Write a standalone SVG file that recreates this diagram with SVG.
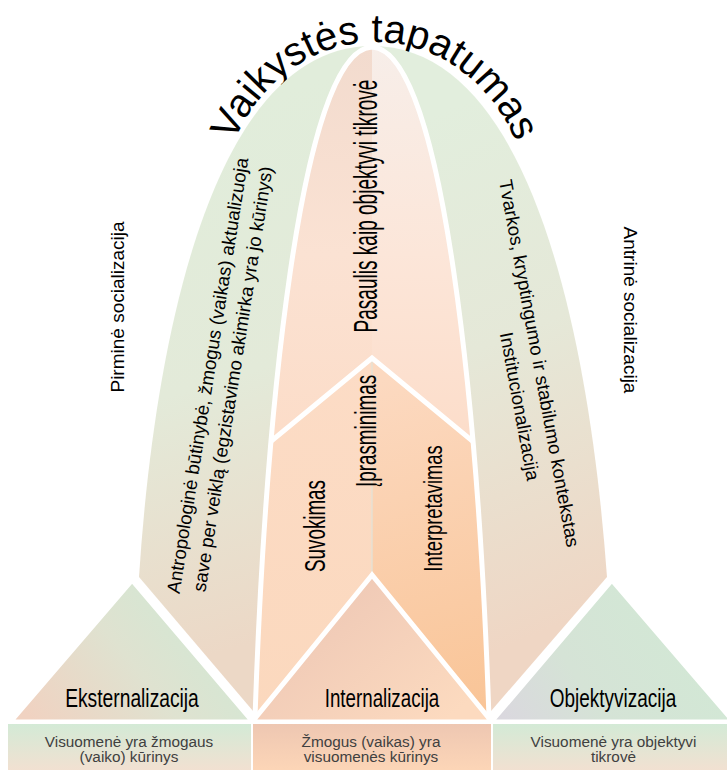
<svg xmlns="http://www.w3.org/2000/svg" width="727" height="770" viewBox="0 0 727 770">
  <defs>
    <style>
      text { font-family: "Liberation Sans", Arial, sans-serif; fill: #000; }
      .side { font-size: 19px; text-anchor: middle; }
      .note { font-size: 18.67px; text-anchor: middle; }
      .lbl { font-size: 25px; text-anchor: middle; }
      .cap { font-size: 15.33px; fill: #404040; text-anchor: middle; }
      .gap { fill: none; stroke: #fff; stroke-width: 5; stroke-linejoin: miter; }
      .edge { stroke: #fff; stroke-width: 5; stroke-linejoin: miter; }
    </style>
    <!-- outer lobes -->
    <linearGradient id="gLobeL" gradientUnits="userSpaceOnUse" x1="180" y1="120" x2="330" y2="620">
      <stop offset="0" stop-color="#e1eddb"/>
      <stop offset="0.5" stop-color="#e3ead9"/>
      <stop offset="1" stop-color="#ecd8c6"/>
    </linearGradient>
    <linearGradient id="gLobeR" gradientUnits="userSpaceOnUse" x1="420" y1="120" x2="620" y2="600">
      <stop offset="0" stop-color="#e2eedd"/>
      <stop offset="0.45" stop-color="#e5e8d8"/>
      <stop offset="1" stop-color="#efd6c4"/>
    </linearGradient>
    <!-- core segments -->
    <linearGradient id="gUpL" gradientUnits="userSpaceOnUse" x1="0" y1="47" x2="0" y2="460">
      <stop offset="0" stop-color="#f2dbce"/>
      <stop offset="0.5" stop-color="#fbe2d3"/>
      <stop offset="1" stop-color="#fcdcc7"/>
    </linearGradient>
    <linearGradient id="gUpR" gradientUnits="userSpaceOnUse" x1="0" y1="47" x2="0" y2="460">
      <stop offset="0" stop-color="#f7eee9"/>
      <stop offset="0.5" stop-color="#fce6d9"/>
      <stop offset="1" stop-color="#fcdcc8"/>
    </linearGradient>
    <linearGradient id="gLowL" gradientUnits="userSpaceOnUse" x1="0" y1="360" x2="0" y2="720">
      <stop offset="0" stop-color="#fcdcc6"/>
      <stop offset="1" stop-color="#fbd8bd"/>
    </linearGradient>
    <linearGradient id="gLowR" gradientUnits="userSpaceOnUse" x1="380" y1="380" x2="480" y2="720">
      <stop offset="0" stop-color="#fcd9c0"/>
      <stop offset="1" stop-color="#f9c496"/>
    </linearGradient>
    <!-- base triangles -->
    <linearGradient id="gTriL" gradientUnits="userSpaceOnUse" x1="200" y1="600" x2="40" y2="730">
      <stop offset="0" stop-color="#d2e8d4"/>
      <stop offset="0.45" stop-color="#dfe2d0"/>
      <stop offset="1" stop-color="#f0d2c1"/>
    </linearGradient>
    <linearGradient id="gTriC" gradientUnits="userSpaceOnUse" x1="330" y1="590" x2="440" y2="725">
      <stop offset="0" stop-color="#efc9b6"/>
      <stop offset="1" stop-color="#fcdabf"/>
    </linearGradient>
    <linearGradient id="gTriR" gradientUnits="userSpaceOnUse" x1="680" y1="610" x2="510" y2="725">
      <stop offset="0" stop-color="#d2e8d5"/>
      <stop offset="0.6" stop-color="#d5e3d6"/>
      <stop offset="1" stop-color="#dad8de"/>
    </linearGradient>
    <!-- caption boxes -->
    <linearGradient id="gBoxG" x1="0" y1="0" x2="0" y2="1">
      <stop offset="0" stop-color="#d3ead6"/>
      <stop offset="1" stop-color="#f3e0d1"/>
    </linearGradient>
    <linearGradient id="gBoxO" x1="0" y1="0" x2="0" y2="1">
      <stop offset="0" stop-color="#eec7b2"/>
      <stop offset="1" stop-color="#fdd6b7"/>
    </linearGradient>
    <clipPath id="clipCore">
      <path d="M255,718 C265,420 300,50 372,47 C444,50 479,420 489,718 Z"/>
    </clipPath>
    <path id="titleArc" d="M220,213 A155,171 0 0 1 530,213" fill="none"/>
  </defs>

  <!-- title along the arch -->
  <g id="title">
    <text font-size="40"><textPath href="#titleArc" startOffset="50%" text-anchor="middle">Vaikystės tapatumas</textPath></text>
  </g>

  <!-- side captions -->
  <g id="primary-socialization">
    <text class="side" transform="translate(124,307) rotate(-90)">Pirminė socializacija</text>
  </g>
  <g id="secondary-socialization">
    <text class="side" transform="translate(624,310) rotate(90)">Antrinė socializacija</text>
  </g>

  <!-- left lobe -->
  <g id="lobe-left">
    <path d="M139,577 C155,330 215,46 372,46 L372,718 L259,718 Z" fill="url(#gLobeL)"/>
    <text class="note" transform="translate(214,376.5) rotate(-81)">Antropologinė būtinybė, žmogus (vaikas) aktualizuoja</text>
    <text class="note" transform="translate(239,380) rotate(-81)">save per veiklą (egzistavimo akimirka yra jo kūrinys)</text>
  </g>

  <!-- right lobe -->
  <g id="lobe-right">
    <path d="M607,577 C589,330 529,46 372,46 L372,718 L485,718 Z" fill="url(#gLobeR)"/>
    <text class="note" transform="translate(533,364.5) rotate(79.5)">Tvarkos, kryptingumo ir stabilumo kontekstas</text>
    <text class="note" transform="translate(513.5,407.5) rotate(79.5)">Institucionalizacija</text>
  </g>

  <!-- central core -->
  <g id="core">
    <g clip-path="url(#clipCore)">
      <rect x="240" y="40" width="132" height="440" fill="url(#gUpL)"/>
      <rect x="372" y="40" width="133" height="440" fill="url(#gUpR)"/>
      <polygon points="372,358 240,467 240,730 372,730" fill="url(#gLowL)"/>
      <polygon points="372,358 505,468 505,730 372,730" fill="url(#gLowR)"/>
    </g>
  </g>

  <!-- separators -->
  <g id="dividers">
    <g clip-path="url(#clipCore)">
      <line x1="372" y1="360" x2="372" y2="580" stroke="#e4e2d6" stroke-width="1.3"/>
      <polyline class="gap" points="240,467 372,358 505,468"/>
    </g>
    <path class="gap" d="M255,718 C265,420 300,50 372,47 C444,50 479,420 489,718 Z"/>
  </g>

  <g id="core-labels">
    <text font-size="34" text-anchor="middle" transform="translate(377,206) rotate(-90) scale(0.56,1)">Pasaulis kaip objektyvi tikrovė</text>
    <text font-size="28.6" text-anchor="middle" transform="translate(375.5,431) rotate(-90) scale(0.66,1)">Įprasminimas</text>
    <text font-size="30" text-anchor="middle" transform="translate(325,526) rotate(-90) scale(0.627,1)">Suvokimas</text>
    <text font-size="26" text-anchor="middle" transform="translate(441.7,508.5) rotate(-90) scale(0.705,1)">Interpretavimas</text>
  </g>

  <!-- base triangles -->
  <g id="externalization">
    <polygon class="edge" points="132,580 10,722 253,722" fill="url(#gTriL)"/>
    <text class="lbl" transform="translate(132,706.7) scale(0.77,1)">Eksternalizacija</text>
  </g>
  <g id="internalization">
    <polygon class="edge" points="372,575 252,722 492,722" fill="url(#gTriC)" stroke-width="6"/>
    <text class="lbl" transform="translate(382,706.7) scale(0.75,1)">Internalizacija</text>
  </g>
  <g id="objectivation">
    <polygon class="edge" points="612,580 491,722 734,722" fill="url(#gTriR)"/>
    <text class="lbl" transform="translate(613,706.7) scale(0.76,1)">Objektyvizacija</text>
  </g>

  <!-- caption boxes -->
  <g id="box-left">
    <rect x="8" y="724" width="243" height="48" fill="url(#gBoxG)"/>
    <text class="cap" x="129" y="746.7">Visuomenė yra žmogaus</text>
    <text class="cap" x="129" y="762.3">(vaiko) kūrinys</text>
  </g>
  <g id="box-center">
    <rect x="253" y="724" width="238" height="48" fill="url(#gBoxO)"/>
    <text class="cap" x="371" y="746.7">Žmogus (vaikas) yra</text>
    <text class="cap" x="371" y="762.3">visuomenės kūrinys</text>
  </g>
  <g id="box-right">
    <rect x="493" y="724" width="236" height="48" fill="url(#gBoxG)"/>
    <text class="cap" x="613.5" y="746.7">Visuomenė yra objektyvi</text>
    <text class="cap" x="613.5" y="762.3">tikrovė</text>
  </g>
</svg>
